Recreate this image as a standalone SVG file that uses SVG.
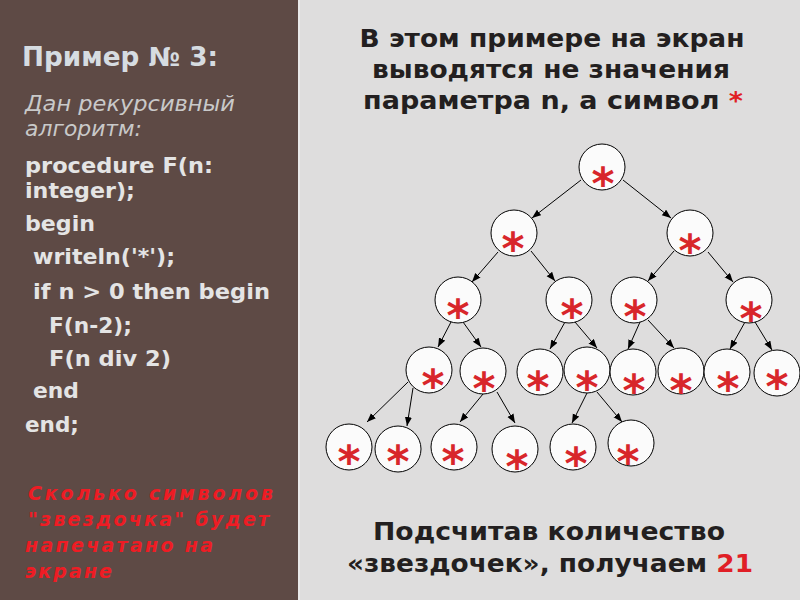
<svg xmlns="http://www.w3.org/2000/svg" width="800" height="600" viewBox="0 0 800 600">
<defs>
<marker id="ah" markerUnits="userSpaceOnUse" markerWidth="10" markerHeight="8" refX="9" refY="3.5" orient="auto">
<path d="M0,0 L9,3.5 L0,7 z" fill="#000"/>
</marker>
<style>
.bg-left{fill:#5e4a45}
.bg-right{fill:#dedddd}
.node circle{fill:#fbfbfb;stroke:#000;stroke-width:1}
.node text{font-family:"DejaVu Sans",sans-serif;font-weight:bold;font-size:44px;fill:#d8262b;text-anchor:middle}
.edge{stroke:#000;stroke-width:1;fill:none;marker-end:url(#ah)}
.t{font-family:"DejaVu Sans",sans-serif}
.hdr{font-weight:bold;font-size:26px;fill:#d6dce1}
.it{font-style:italic;font-size:21px;fill:#c9c9c9}
.code{font-weight:bold;font-size:22px;fill:#e4e4e4}
.q{font-weight:bold;font-style:italic;font-size:19px;fill:#ee1c24}
.dark{font-weight:bold;font-size:25px;fill:#231f20;text-anchor:middle}
.red{fill:#e01f26}
</style>
</defs>
<rect class="bg-right" x="0" y="0" width="800" height="600"/>
<rect class="bg-left" x="0" y="0" width="298" height="600"/>
<rect x="298" y="0" width="2" height="600" fill="#eaeaea"/>

<g id="left-panel" class="t">
<text class="hdr" x="22" y="66" textLength="196" lengthAdjust="spacingAndGlyphs">Пример № 3:</text>
<text class="it" x="25" y="111" textLength="210" lengthAdjust="spacingAndGlyphs">Дан рекурсивный</text>
<text class="it" x="25" y="136" textLength="117" lengthAdjust="spacingAndGlyphs">алгоритм:</text>
<text class="code" x="25" y="173" textLength="188" lengthAdjust="spacingAndGlyphs">procedure F(n:</text>
<text class="code" x="25" y="198" textLength="110" lengthAdjust="spacingAndGlyphs">integer);</text>
<text class="code" x="25" y="231" textLength="70" lengthAdjust="spacingAndGlyphs">begin</text>
<text class="code" x="33" y="264" textLength="142" lengthAdjust="spacingAndGlyphs">writeln('*');</text>
<text class="code" x="33" y="299" textLength="237" lengthAdjust="spacingAndGlyphs">if n &gt; 0 then begin</text>
<text class="code" x="49" y="333" textLength="83" lengthAdjust="spacingAndGlyphs">F(n-2);</text>
<text class="code" x="49" y="366" textLength="122" lengthAdjust="spacingAndGlyphs">F(n div 2)</text>
<text class="code" x="33" y="398" textLength="46" lengthAdjust="spacingAndGlyphs">end</text>
<text class="code" x="25" y="432" textLength="54" lengthAdjust="spacingAndGlyphs">end;</text>
<text class="q" x="28" y="500" textLength="245">Сколько символов</text>
<text class="q" x="28" y="526" textLength="241">"звездочка" будет</text>
<text class="q" x="25" y="552" textLength="188">напечатано на</text>
<text class="q" x="25" y="578" textLength="87">экране</text>
</g>

<g id="title" class="t">
<text class="dark" x="552" y="47" textLength="385" lengthAdjust="spacingAndGlyphs">В этом примере на экран</text>
<text class="dark" x="551" y="78" textLength="358" lengthAdjust="spacingAndGlyphs">выводятся не значения</text>
<text class="dark" x="553" y="109" textLength="380" lengthAdjust="spacingAndGlyphs">параметра n, а символ <tspan class="red">*</tspan></text>
</g>

<g id="result" class="t">
<text class="dark" x="549" y="540" font-size="26" textLength="352" lengthAdjust="spacingAndGlyphs">Подсчитав количество</text>
<text class="dark" x="550" y="572" font-size="26" textLength="406" lengthAdjust="spacingAndGlyphs">«звездочек», получаем <tspan class="red">21</tspan></text>
</g>

<g id="connectors">
<line class="edge" x1="581" y1="180" x2="532" y2="218"/>
<line class="edge" x1="623" y1="180" x2="671" y2="218"/>
<line class="edge" x1="498" y1="252" x2="472" y2="282"/>
<line class="edge" x1="531" y1="251" x2="555" y2="281"/>
<line class="edge" x1="674" y1="251" x2="648" y2="281"/>
<line class="edge" x1="708" y1="252" x2="733" y2="282"/>
<line class="edge" x1="451" y1="322" x2="438" y2="347"/>
<line class="edge" x1="463" y1="322" x2="481" y2="347"/>
<line class="edge" x1="565" y1="322" x2="550" y2="349"/>
<line class="edge" x1="575" y1="322" x2="597" y2="348"/>
<line class="edge" x1="640" y1="322" x2="628" y2="349"/>
<line class="edge" x1="648" y1="320" x2="674" y2="348"/>
<line class="edge" x1="745" y1="322" x2="730" y2="349"/>
<line class="edge" x1="755" y1="322" x2="772" y2="350"/>
<line class="edge" x1="408" y1="382" x2="367" y2="422"/>
<line class="edge" x1="413" y1="388" x2="407" y2="426"/>
<line class="edge" x1="483" y1="394" x2="460" y2="422"/>
<line class="edge" x1="497" y1="392" x2="515" y2="423"/>
<line class="edge" x1="587" y1="393" x2="572" y2="423"/>
<line class="edge" x1="597" y1="392" x2="622" y2="422"/>
</g>

<g id="n0" class="node"><circle cx="602" cy="167" r="23"/><text x="603" y="199">*</text></g>
<g id="n1" class="node"><circle cx="514" cy="233" r="23"/><text x="513" y="264">*</text></g>
<g id="n2" class="node"><circle cx="690" cy="233" r="23"/><text x="690" y="266">*</text></g>
<g id="n3" class="node"><circle cx="458" cy="300" r="23"/><text x="458" y="331">*</text></g>
<g id="n4" class="node"><circle cx="569" cy="300" r="23"/><text x="572" y="331">*</text></g>
<g id="n5" class="node"><circle cx="634" cy="300" r="23"/><text x="635" y="332">*</text></g>
<g id="n6" class="node"><circle cx="749" cy="300" r="23"/><text x="751" y="334">*</text></g>
<g id="n7" class="node"><circle cx="429" cy="370" r="23"/><text x="433" y="401">*</text></g>
<g id="n8" class="node"><circle cx="483" cy="371" r="23"/><text x="484" y="404">*</text></g>
<g id="n9" class="node"><circle cx="540" cy="372" r="23"/><text x="538" y="403">*</text></g>
<g id="n10" class="node"><circle cx="587" cy="370" r="23"/><text x="587" y="403">*</text></g>
<g id="n11" class="node"><circle cx="633" cy="372" r="23"/><text x="634" y="406">*</text></g>
<g id="n12" class="node"><circle cx="681" cy="371" r="23"/><text x="681" y="406">*</text></g>
<g id="n13" class="node"><circle cx="727" cy="372" r="23"/><text x="728" y="404">*</text></g>
<g id="n14" class="node"><circle cx="777" cy="373" r="23"/><text x="777" y="402">*</text></g>
<g id="n15" class="node"><circle cx="349" cy="447" r="23"/><text x="349" y="477">*</text></g>
<g id="n16" class="node"><circle cx="398" cy="449" r="23"/><text x="398" y="477">*</text></g>
<g id="n17" class="node"><circle cx="454" cy="447" r="23"/><text x="453" y="477">*</text></g>
<g id="n18" class="node"><circle cx="515" cy="449" r="23"/><text x="517" y="482">*</text></g>
<g id="n19" class="node"><circle cx="573" cy="447" r="23"/><text x="576" y="479">*</text></g>
<g id="n20" class="node"><circle cx="631" cy="443" r="23"/><text x="628" y="477">*</text></g>
</svg>
